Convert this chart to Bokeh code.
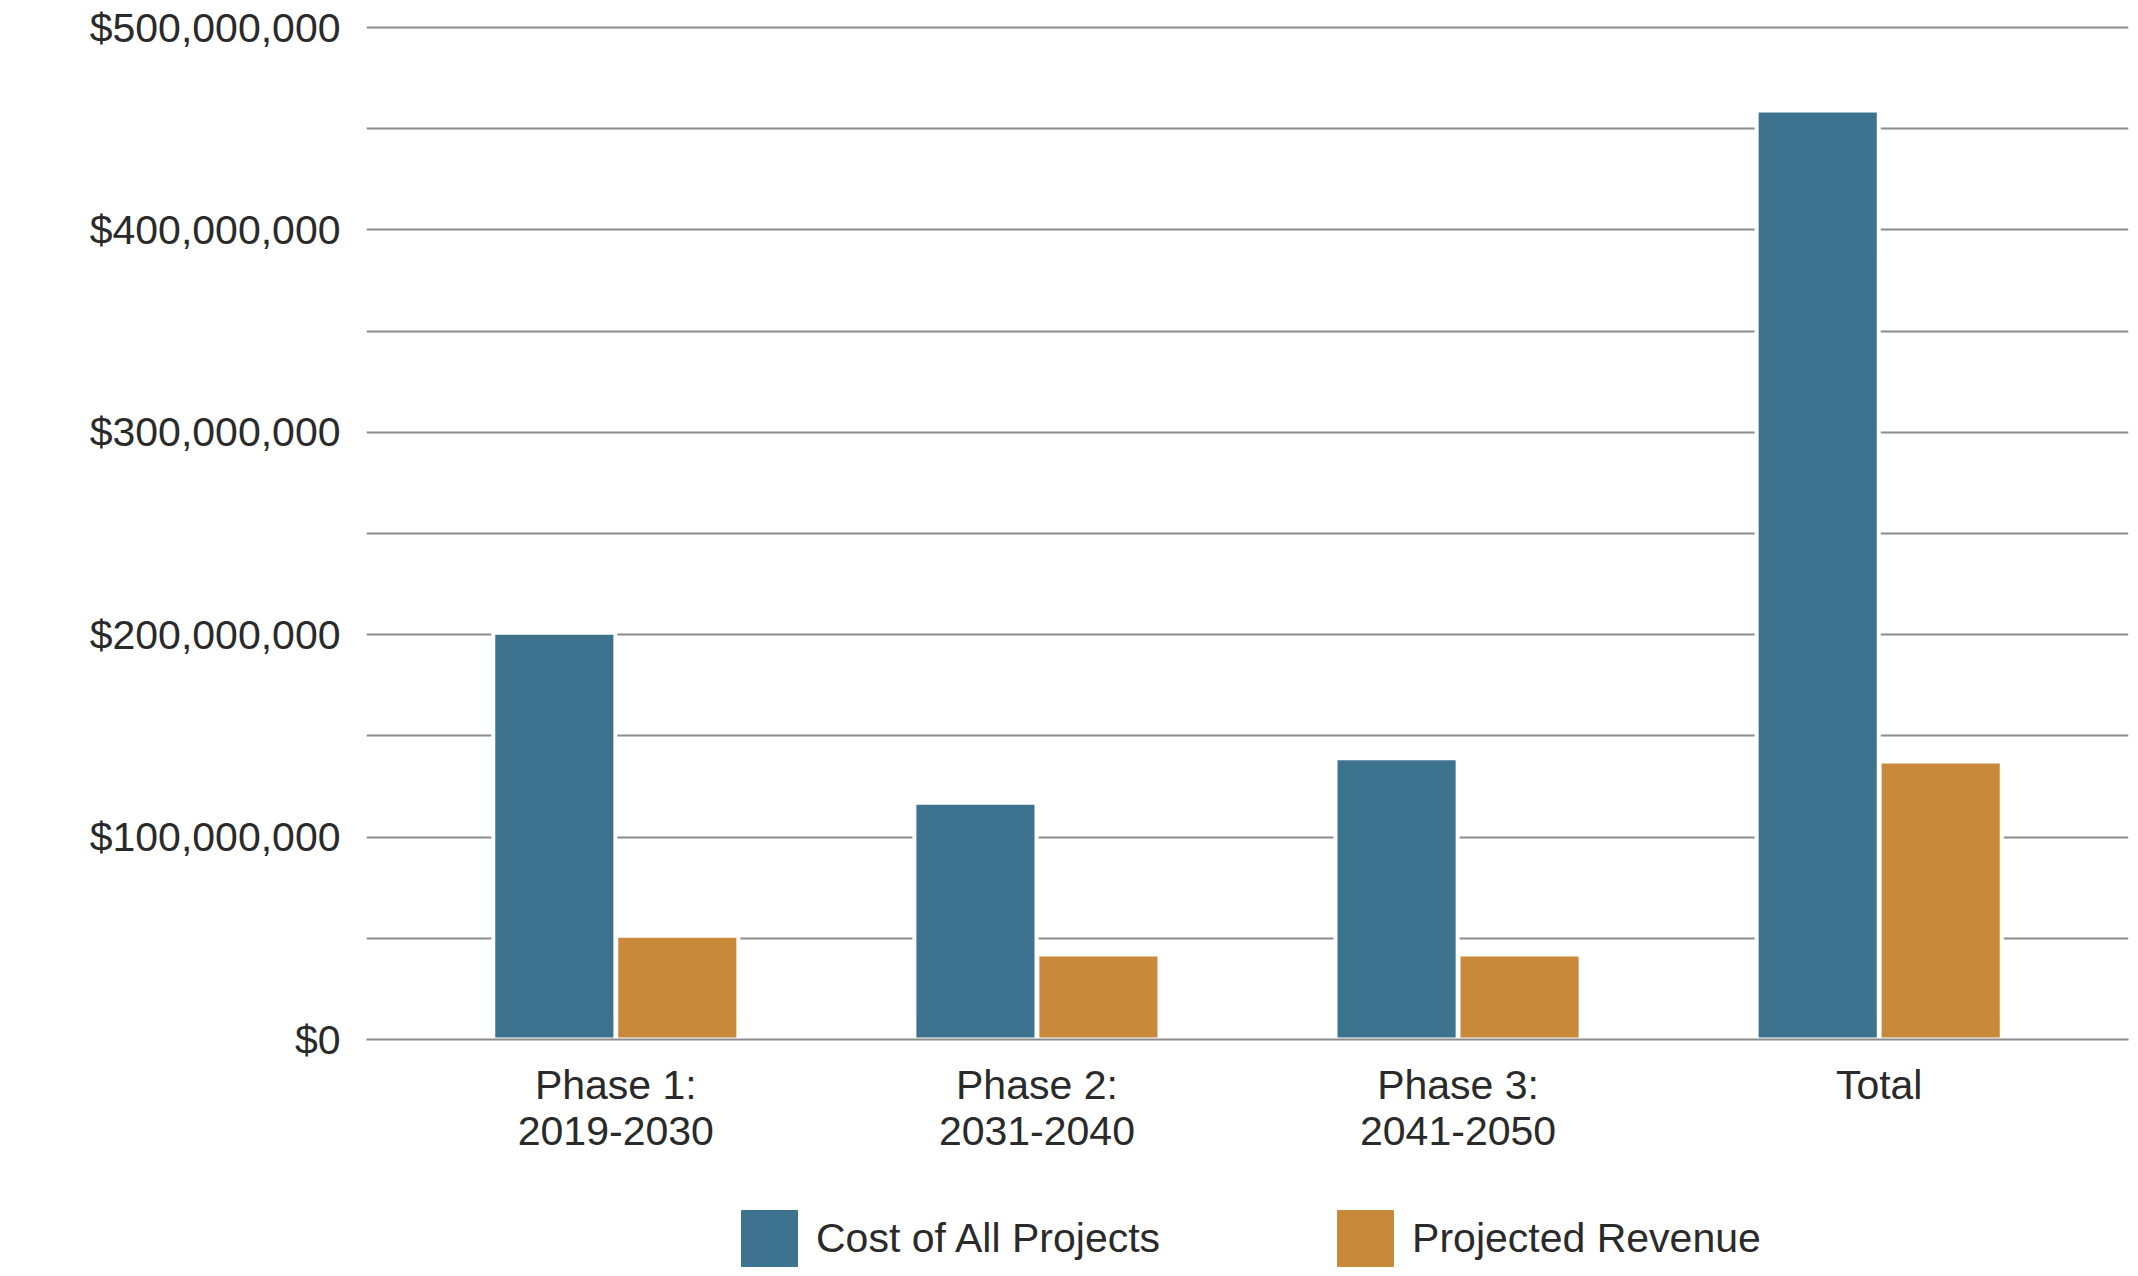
from bokeh.plotting import figure
from bokeh.layouts import column
from bokeh.models import (ColumnDataSource, FactorRange, Range1d, SingleIntervalTicker,
                          NumeralTickFormatter, Legend, LegendItem)
from bokeh.transform import dodge
from bokeh.embed import file_html
from bokeh.resources import INLINE

# ---- data ----
phases = ["Phase 1:\n2019-2030", "Phase 2:\n2031-2040", "Phase 3:\n2041-2050", "Total"]
cost_of_all_projects = [201e6, 117e6, 139e6, 459e6]
projected_revenue = [51.3e6, 42e6, 42e6, 137.3e6]
series_names = ["Cost of All Projects", "Projected Revenue"]
series_colors = ["#3e7390", "#c8893b"]

FONT = "Liberation Sans"
TEXT_COLOR = "#2a2a2a"
GRID_COLOR = "#8c8c8c"

source = ColumnDataSource(dict(phase=phases, cost=cost_of_all_projects, revenue=projected_revenue))

p = figure(
    width=2130, height=1160,
    x_range=FactorRange(factors=phases, range_padding=0.046),
    y_range=Range1d(0, 501e6),
    output_backend="svg", toolbar_location=None,
    min_border_left=366, min_border_right=2, min_border_top=25, min_border_bottom=121,
)
p.outline_line_color = None
p.background_fill_color = "white"
p.border_fill_color = "white"

p.vbar(x=dodge("phase", -0.146, range=p.x_range), top="cost", width=0.29, source=source,
       fill_color=series_colors[0], line_color="white", line_width=4)
p.vbar(x=dodge("phase", 0.146, range=p.x_range), top="revenue", width=0.29, source=source,
       fill_color=series_colors[1], line_color="white", line_width=4)

# grid
p.xgrid.grid_line_color = None
p.ygrid.ticker = SingleIntervalTicker(interval=50e6)
p.ygrid.grid_line_color = GRID_COLOR
p.ygrid.grid_line_width = 2

# y axis
p.yaxis.ticker = SingleIntervalTicker(interval=100e6)
p.yaxis.formatter = NumeralTickFormatter(format="$0,0")
p.yaxis.axis_line_color = None
p.yaxis.major_tick_line_color = None
p.yaxis.minor_tick_line_color = None
p.yaxis.major_label_standoff = 20
p.yaxis.major_label_text_font = FONT
p.yaxis.major_label_text_font_size = "41px"
p.yaxis.major_label_text_color = TEXT_COLOR

# x axis
p.xaxis.axis_line_color = GRID_COLOR
p.xaxis.axis_line_width = 2
p.xaxis.major_tick_line_color = None
p.xaxis.minor_tick_line_color = None
p.xaxis.major_label_standoff = 16
p.xaxis.major_label_text_font = FONT
p.xaxis.major_label_text_font_size = "41px"
p.xaxis.major_label_text_color = TEXT_COLOR
p.xaxis.major_label_text_line_height = 1.0

# ---- legend strip below the chart ----
lf = figure(
    width=2130, height=114,
    x_range=Range1d(0, 1), y_range=Range1d(0, 1),
    output_backend="svg", toolbar_location=None,
    min_border_left=366, min_border_right=2, min_border_top=0, min_border_bottom=0,
)
lf.axis.visible = False
lf.grid.grid_line_color = None
lf.outline_line_color = None
lf.background_fill_color = "white"
lf.border_fill_color = "white"

# legend keys (kept outside the visible range; only their swatches are shown)
key_renderers = [
    lf.vbar(x=[-5], top=[-5], bottom=[-6], width=0.1, fill_color=c, line_color=c, line_width=1)
    for c in series_colors
]

legend = Legend(
    items=[LegendItem(label=n, renderers=[r]) for n, r in zip(series_names, key_renderers)],
    orientation="horizontal",
    location=(368, 1),
    glyph_width=70, glyph_height=70,
    label_standoff=12, spacing=170,
    label_text_font=FONT, label_text_font_size="41px", label_text_color=TEXT_COLOR,
    padding=0, margin=0,
    border_line_color=None, background_fill_alpha=0,
)
lf.add_layout(legend, "center")

layout = column(p, lf, spacing=0)
open("out.html", "w").write(file_html(layout, INLINE))
